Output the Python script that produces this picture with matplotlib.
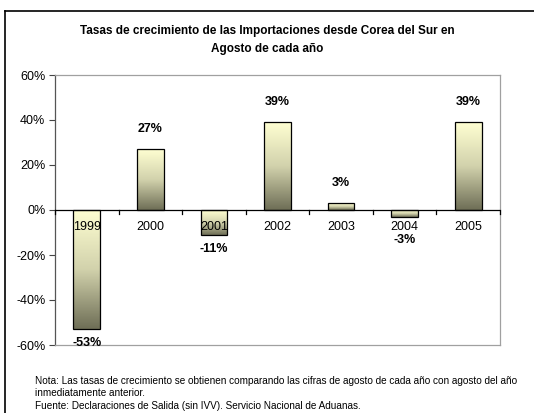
import numpy as np
import matplotlib
matplotlib.use('Agg')
import matplotlib.pyplot as plt
from matplotlib.colors import LinearSegmentedColormap
from matplotlib.lines import Line2D

YEARS = ['1999', '2000', '2001', '2002', '2003', '2004', '2005']
RATES = [-53, 27, -11, 39, 3, -3, 39]
LABELS = ['-53%', '27%', '-11%', '39%', '3%', '-3%', '39%']

plt.rcParams['font.family'] = ['Liberation Sans', 'DejaVu Sans']

fig = plt.figure(figsize=(5.34, 4.13), dpi=100)
ax = fig.add_axes([55/534, 1 - 345/413, 445/534, 270/413])

X = np.arange(len(YEARS))
WIDTH = 0.42
cmap = LinearSegmentedColormap.from_list('bar', ['#FFFFD2', '#D2D2AC', '#6E6E56'])
grad = np.linspace(0, 1, 256).reshape(-1, 1)

bars = ax.bar(X, RATES, WIDTH, facecolor='none', edgecolor='black', linewidth=0.9, zorder=3)
for b in bars:
    x0 = b.get_x()
    y0 = min(b.get_y(), b.get_y() + b.get_height())
    y1 = max(b.get_y(), b.get_y() + b.get_height())
    im = ax.imshow(grad, cmap=cmap, aspect='auto', origin='upper',
                   extent=[x0, x0 + b.get_width(), y0, y1], zorder=2)
    im.set_clip_path(b)

# value labels: above positive bars, below negative ones (kept clear of the year labels)
for xi, v, lab in zip(X, RATES, LABELS):
    if v >= 0:
        ly = v + 9
    else:
        ly = min(v - 6.2, -13.5)
    ax.text(xi, ly, lab, ha='center', va='center', fontsize=9, fontweight='bold', zorder=5)

ax.set_xlim(-0.5, len(YEARS) - 0.5)
ax.set_ylim(-60, 60)
ax.set_yticks([-60, -40, -20, 0, 20, 40, 60])
ax.set_yticklabels(['%d%%' % t for t in [-60, -40, -20, 0, 20, 40, 60]], fontsize=9)
ax.tick_params(axis='y', direction='out', length=4, width=0.8, color='#444444', pad=3)

# x axis drawn at zero
ax.set_xticks([])
ax.axhline(0, color='black', lw=0.9, zorder=4)
for bx in np.arange(-0.5, len(YEARS), 1.0):
    ax.plot([bx, bx], [0, -1.8], color='black', lw=0.9, zorder=4, clip_on=False)
for xi, yr in zip(X, YEARS):
    ax.text(xi, -7.5, yr, ha='center', va='center', fontsize=9, zorder=5)

for s in ['top', 'right', 'bottom']:
    ax.spines[s].set_color('#A0A0A0')
    ax.spines[s].set_linewidth(0.9)
ax.spines['left'].set_color('#555555')
ax.spines['left'].set_linewidth(0.9)

fig.text(0.5, 1 - 31/413, 'Tasas de crecimiento de las Importaciones desde Corea del Sur en',
         ha='center', va='center', fontsize=8.5, fontweight='bold')
fig.text(0.5, 1 - 49/413, 'Agosto de cada año',
         ha='center', va='center', fontsize=8.5, fontweight='bold')

notes = ['Nota: Las tasas de crecimiento se obtienen comparando las cifras de agosto de cada año con agosto del año',
         'inmediatamente anterior.',
         'Fuente: Declaraciones de Salida (sin IVV). Servicio Nacional de Aduanas.']
for i, n in enumerate(notes):
    fig.text(35/534, 1 - (381 + 12.5*i)/413, n, ha='left', va='center', fontsize=7.2)

fig.add_artist(Line2D([5/534, 1], [1 - 10.5/413, 1 - 10.5/413], color='black', lw=1.2))
fig.add_artist(Line2D([5/534, 5/534], [1 - 10.5/413, 0], color='black', lw=1.2))

fig.savefig('out.png', dpi=100)
